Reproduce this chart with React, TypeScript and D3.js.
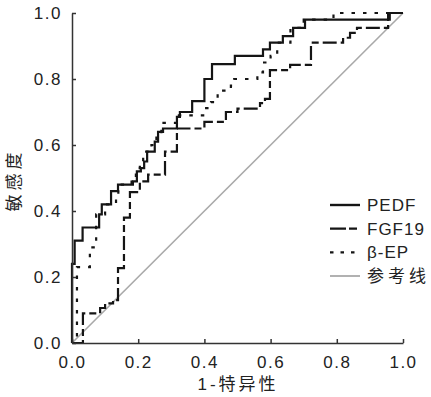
import * as d3 from 'd3'
import { useEffect, useRef } from 'react'

const W = 431
const H = 397

// ROC points (1-specificity, sensitivity)
const pedfFpr = [0, 0, 0.008, 0.032, 0.082, 0.09, 0.118, 0.139, 0.184, 0.196, 0.208, 0.218, 0.227, 0.25, 0.26, 0.275, 0.317, 0.326, 0.363, 0.4, 0.423, 0.492, 0.577, 0.598, 0.637, 0.668, 0.704, 0.96, 1.0]
const pedfTpr = [0, 0.24, 0.31, 0.35, 0.39, 0.42, 0.46, 0.48, 0.49, 0.52, 0.53, 0.55, 0.58, 0.61, 0.64, 0.65, 0.685, 0.7, 0.733, 0.8, 0.845, 0.87, 0.89, 0.91, 0.93, 0.955, 0.98, 1.0, 1.0]

const fgfFpr = [0, 0.033, 0.085, 0.1, 0.124, 0.139, 0.157, 0.175, 0.205, 0.23, 0.281, 0.317, 0.4, 0.465, 0.5, 0.568, 0.583, 0.598, 0.659, 0.722, 0.819, 0.84, 0.861, 0.955, 1.0]
const fgfTpr = [0, 0.09, 0.106, 0.12, 0.13, 0.227, 0.38, 0.457, 0.49, 0.51, 0.58, 0.65, 0.67, 0.7, 0.71, 0.727, 0.74, 0.827, 0.843, 0.91, 0.925, 0.94, 0.955, 1.0, 1.0]

const epFpr = [0, 0.015, 0.054, 0.073, 0.1, 0.133, 0.14, 0.18, 0.193, 0.205, 0.215, 0.24, 0.255, 0.27, 0.317, 0.4, 0.42, 0.44, 0.48, 0.49, 0.56, 0.577, 0.6, 0.62, 0.66, 0.7, 0.79, 1.0]
const epTpr = [0, 0.23, 0.29, 0.39, 0.42, 0.44, 0.48, 0.5, 0.53, 0.55, 0.58, 0.6, 0.63, 0.667, 0.69, 0.712, 0.73, 0.765, 0.78, 0.8, 0.82, 0.85, 0.87, 0.91, 0.955, 0.98, 1.0, 1.0]

const refFpr = [0, 1]
const refTpr = [0, 1]

const ticks = [0, 0.2, 0.4, 0.6, 0.8, 1.0]
const legendLabels = ['PEDF', 'FGF19', 'β-EP', '参考线']

const styles = [
  { color: '#151515', width: 2.2, dash: null as string | null },
  { color: '#151515', width: 2.2, dash: '14,4,7,4' },
  { color: '#151515', width: 2.2, dash: '3.5,8' },
  { color: '#a9a9a9', width: 1.6, dash: null as string | null },
]

const FONT = '"Liberation Sans", Arial, sans-serif'
const CJK = '"Liberation Sans", "Noto Sans CJK SC", sans-serif'

export default function App() {
  const svgRef = useRef<SVGSVGElement | null>(null)

  useEffect(() => {
    if (!svgRef.current) return
    const svg = d3.select(svgRef.current)
    svg.selectAll('*').remove()

    const x = d3.scaleLinear().domain([0, 1]).range([72, 403])
    const y = d3.scaleLinear().domain([0, 1]).range([343, 13])

    const series = [
      { fpr: pedfFpr, tpr: pedfTpr },
      { fpr: fgfFpr, tpr: fgfTpr },
      { fpr: epFpr, tpr: epTpr },
    ]

    // reference diagonal first, underneath
    const ref = d3.line<number>().x(d => x(refFpr[d])).y(d => y(refTpr[d]))
    svg.append('path')
      .attr('d', ref([0, 1]))
      .attr('fill', 'none')
      .attr('stroke', styles[3].color)
      .attr('stroke-width', styles[3].width)

    const step = d3.line<[number, number]>()
      .x(d => x(d[0]))
      .y(d => y(d[1]))
      .curve(d3.curveStepAfter)

    // draw FGF19 and β-EP before PEDF so the solid line sits on top
    ;[1, 2, 0].forEach(i => {
      const s = series[i]
      const pts = s.fpr.map((f, k) => [f, s.tpr[k]] as [number, number])
      const p = svg.append('path')
        .attr('d', step(pts))
        .attr('fill', 'none')
        .attr('stroke', styles[i].color)
        .attr('stroke-width', styles[i].width)
      if (styles[i].dash) p.attr('stroke-dasharray', styles[i].dash)
    })

    const fmt = d3.format('.1f')
    const gx = svg.append('g').attr('transform', 'translate(0,343)')
      .call(d3.axisBottom(x).tickValues(ticks).tickFormat(d => fmt(d as number))
        .tickSizeInner(-4).tickSizeOuter(0).tickPadding(13))
    const gy = svg.append('g').attr('transform', 'translate(72,0)')
      .call(d3.axisLeft(y).tickValues(ticks).tickFormat(d => fmt(d as number))
        .tickSizeInner(-4).tickSizeOuter(0).tickPadding(10))
    for (const g of [gx, gy]) {
      g.select('.domain').attr('stroke', '#333').attr('stroke-width', 1.5)
      g.selectAll('.tick line').attr('stroke', '#333').attr('stroke-width', 1.5)
      g.selectAll('.tick text')
        .attr('fill', '#222')
        .attr('font-size', 17)
        .attr('font-family', FONT)
        .attr('letter-spacing', 1.5)
    }

    svg.append('text')
      .attr('x', 238).attr('y', 390)
      .attr('text-anchor', 'middle')
      .attr('font-size', 17).attr('font-family', CJK).attr('fill', '#222')
      .attr('letter-spacing', 3)
      .text('1-特异性')

    svg.append('text')
      .attr('transform', 'translate(20,180) rotate(-90)')
      .attr('text-anchor', 'middle')
      .attr('font-size', 17).attr('font-family', CJK).attr('fill', '#222')
      .attr('letter-spacing', 4)
      .text('敏感度')

    // legend
    const ly = d3.scalePoint<string>().domain(legendLabels).range([205, 276])
    legendLabels.forEach((lab, i) => {
      const yy = ly(lab) as number
      const l = svg.append('line')
        .attr('x1', 330).attr('x2', 360).attr('y1', yy).attr('y2', yy)
        .attr('stroke', styles[i].color)
        .attr('stroke-width', i === 3 ? 1.8 : 2.4)
      if (styles[i].dash) l.attr('stroke-dasharray', i === 1 ? '16,3,8,3' : '3.5,7')
      svg.append('text')
        .attr('x', 367).attr('y', yy)
        .attr('dy', '0.36em')
        .attr('font-size', 17).attr('font-family', CJK).attr('fill', '#222')
        .attr('letter-spacing', i === 3 ? 4 : 1)
        .text(lab)
    })
  }, [])

  return (
    <svg
      ref={svgRef}
      width={W}
      height={H}
      style={{ position: 'absolute', left: 0, top: 0, background: '#fff' }}
    />
  )
}
